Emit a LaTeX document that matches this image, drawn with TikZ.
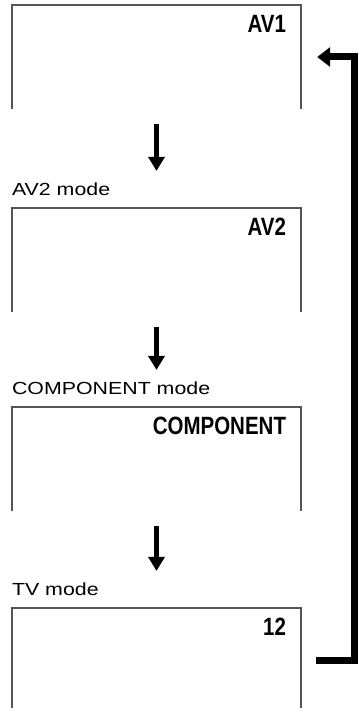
\documentclass[tikz,border=0pt]{standalone}
\usepackage{fontspec}
\usepackage{xcolor}
\usetikzlibrary{arrows.meta,positioning,calc}
\setmainfont{Liberation Sans}
\definecolor{gris}{HTML}{555555}
\tikzset{
  pantalla/.style={minimum width=289pt,minimum height=104pt,inner sep=0pt},
  marco/.style={draw=gris,line width=1.5pt},
  rotulo/.style={font=\bfseries\fontsize{25}{25}\selectfont,inner sep=0pt,anchor=north east,xscale=0.82,transform shape},
  modo/.style={font=\fontsize{17.5}{20}\selectfont,inner sep=0pt,anchor=base west,xscale=1.22,transform shape},
  flecha/.style={-{Triangle[length=14pt,width=16pt]},line width=5pt,shorten <=15pt,shorten >=12pt},
  retorno/.style={-{Triangle[length=13pt,width=19pt]},line width=7pt,line join=miter,shorten <=15pt,shorten >=16pt},
}

\begin{document}
\begin{tikzpicture}[x=1pt,y=-1pt]
  \fill[white] (0,0) rectangle (359,708);
  \useasboundingbox (0,0) rectangle (359,708);
  % pantallas
  \node[pantalla] (scr1) at (156.5,57) {};
  \node[pantalla] (scr2) at (156.5,260) {};
  \node[pantalla] (scr3) at (156.5,459) {};
  \node[pantalla] (scr4) at (156.5,660) {};
  \foreach \s in {scr1,scr2,scr3,scr4}
    \draw[marco] (\s.south west) |- (\s.north east) -- (\s.south east);
  % rotulos de la pantalla
  \node[rotulo] (av1) at ([xshift=-15pt,yshift=-10pt]scr1.north east) {AV1};
  \node[rotulo] (av2) at ([xshift=-15pt,yshift=-10pt]scr2.north east) {AV2};
  \node[rotulo] (comp) at ([xshift=-15pt,yshift=-10pt]scr3.north east) {COMPONENT};
  \node[rotulo] (tv) at ([xshift=-15pt,yshift=-10pt]scr4.north east) {12};
  % modos
  \node[modo] (modo2) at ([yshift=12pt]scr2.north west) {AV2 mode};
  \node[modo] (modo3) at ([yshift=12pt]scr3.north west) {COMPONENT mode};
  \node[modo] (modo4) at ([yshift=12pt]scr4.north west) {TV mode};
  \draw[flecha] (scr1.south) -- (scr1.south |- modo2.north);
  \draw[flecha] (scr2.south) -- (scr2.south |- modo3.north);
  \draw[flecha] (scr3.south) -- (scr3.south |- modo4.north);
  \draw[retorno] (scr4.east) -- ++(53.5,0) |- (scr1.east);
\end{tikzpicture}
\end{document}
